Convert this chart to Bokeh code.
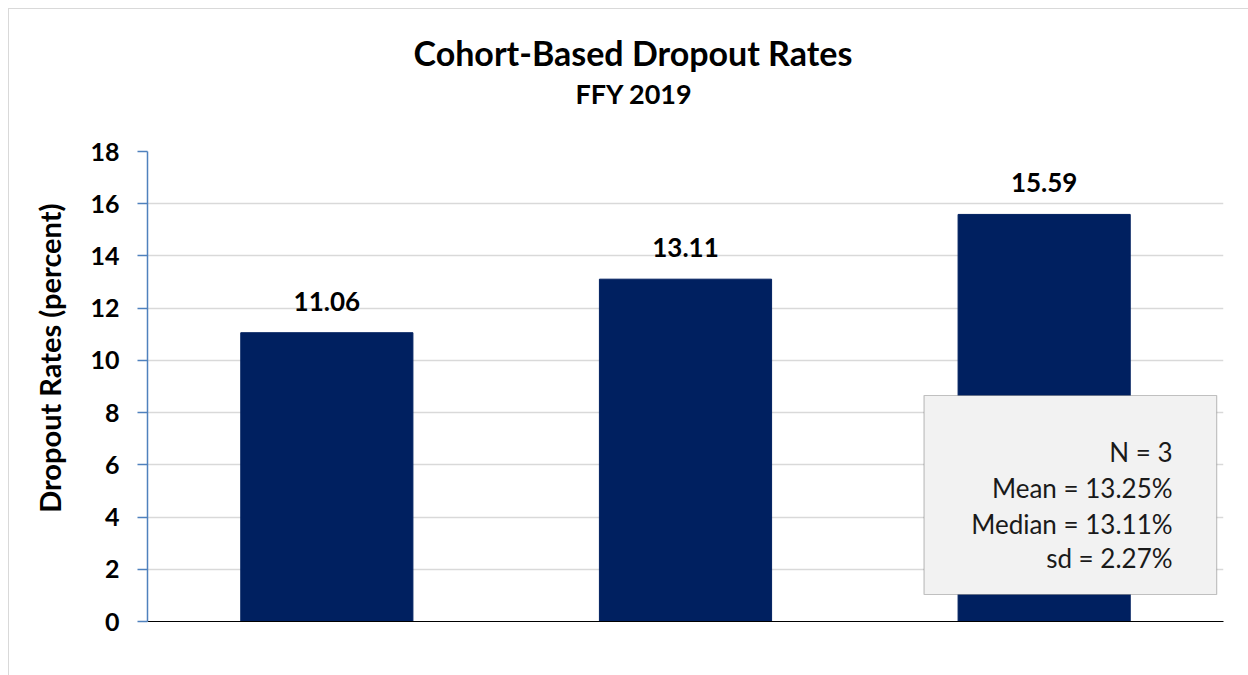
from bokeh.plotting import figure
from bokeh.models import ColumnDataSource, Range1d, LabelSet, Label, BoxAnnotation, FixedTicker, Title
from bokeh.core.properties import value
from bokeh.embed import file_html
from bokeh.resources import INLINE

cohorts = [1, 2, 3]
rates = [11.06, 13.11, 15.59]
rate_labels = ["11.06", "13.11", "15.59"]
y_ticks = [0, 2, 4, 6, 8, 10, 12, 14, 16, 18]
stats_lines = ["N = 3", "Mean = 13.25%", "Median = 13.11%", "sd = 2.27%"]

FONT = "Lato"

src = ColumnDataSource(dict(x=cohorts, top=rates, label=rate_labels))

p = figure(width=1240, height=667, output_backend="svg", toolbar_location=None,
           x_range=Range1d(0.5, 3.5), y_range=Range1d(0, 18), title=None,
           min_border_left=136, min_border_right=26, min_border_top=142, min_border_bottom=55)
p.styles = {"margin-left": "8px", "margin-top": "8px",
            "border-top": "1px solid #d9d9d9", "border-left": "1px solid #d9d9d9"}
p.outline_line_color = None
p.background_fill_color = "white"
p.border_fill_color = "white"

p.vbar(x="x", top="top", width=0.48, source=src, fill_color="#002060", line_color="#002060")

labels = LabelSet(x="x", y="top", text="label", source=src, text_align="center",
                  text_baseline="alphabetic", y_offset=22, text_font=value(FONT),
                  text_font_style="bold", text_font_size="26px", text_color="black")
p.add_layout(labels)

# grid
p.xgrid.grid_line_color = None
p.ygrid.grid_line_color = "#d9d9d9"
p.ygrid.grid_line_width = 1.5
p.ygrid.ticker = FixedTicker(ticks=y_ticks)

# y axis
ya = p.yaxis[0]
ya.ticker = FixedTicker(ticks=y_ticks)
ya.axis_line_color = "#4f81bd"
ya.axis_line_width = 1.5
ya.major_tick_line_color = "#4f81bd"
ya.major_tick_line_width = 1.5
ya.major_tick_out = 10
ya.major_tick_in = 0
ya.minor_tick_line_color = None
ya.major_label_text_font = FONT
ya.major_label_text_font_style = "bold"
ya.major_label_text_font_size = "25px"
ya.major_label_text_color = "black"
ya.major_label_standoff = 18

# x axis
xa = p.xaxis[0]
xa.ticker = FixedTicker(ticks=[])
xa.axis_line_color = "black"
xa.axis_line_width = 1
xa.major_tick_line_color = None
xa.minor_tick_line_color = None
xa.major_label_text_font_size = "0px"

# titles (stacked outward from the plot frame)
spacer = Title(text=" ", text_font_size="1px", standoff=38)
sub = Title(text="FFY 2019", align="left", offset=428, standoff=2,
            text_font=FONT, text_font_style="bold", text_font_size="27px", text_color="black")
main = Title(text="Cohort-Based Dropout Rates", align="left", offset=266, standoff=2,
             text_font=FONT, text_font_style="bold", text_font_size="34px", text_color="black")
p.add_layout(spacer, "above")
p.add_layout(sub, "above")
p.add_layout(main, "above")

ylab = Title(text="Dropout Rates (percent)", align="right", offset=52, standoff=41,
             text_font=FONT, text_font_style="bold", text_font_size="29px", text_color="black")
p.add_layout(ylab, "left")

# stats box
p.add_layout(BoxAnnotation(left=2.665, right=3.481, top=8.656, bottom=1.034,
                           fill_color="#f2f2f2", fill_alpha=1.0,
                           line_color="#404040", line_width=1.2, level="overlay"))
for txt, yy in zip(stats_lines, [6.51, 5.13, 3.75, 2.45]):
    p.add_layout(Label(x=3.358, y=yy, text=txt, text_align="right", text_baseline="alphabetic",
                       text_font=FONT, text_font_size="26px", text_color="#1a1a1a", level="overlay"))

open("out.html", "w").write(file_html(p, INLINE))
